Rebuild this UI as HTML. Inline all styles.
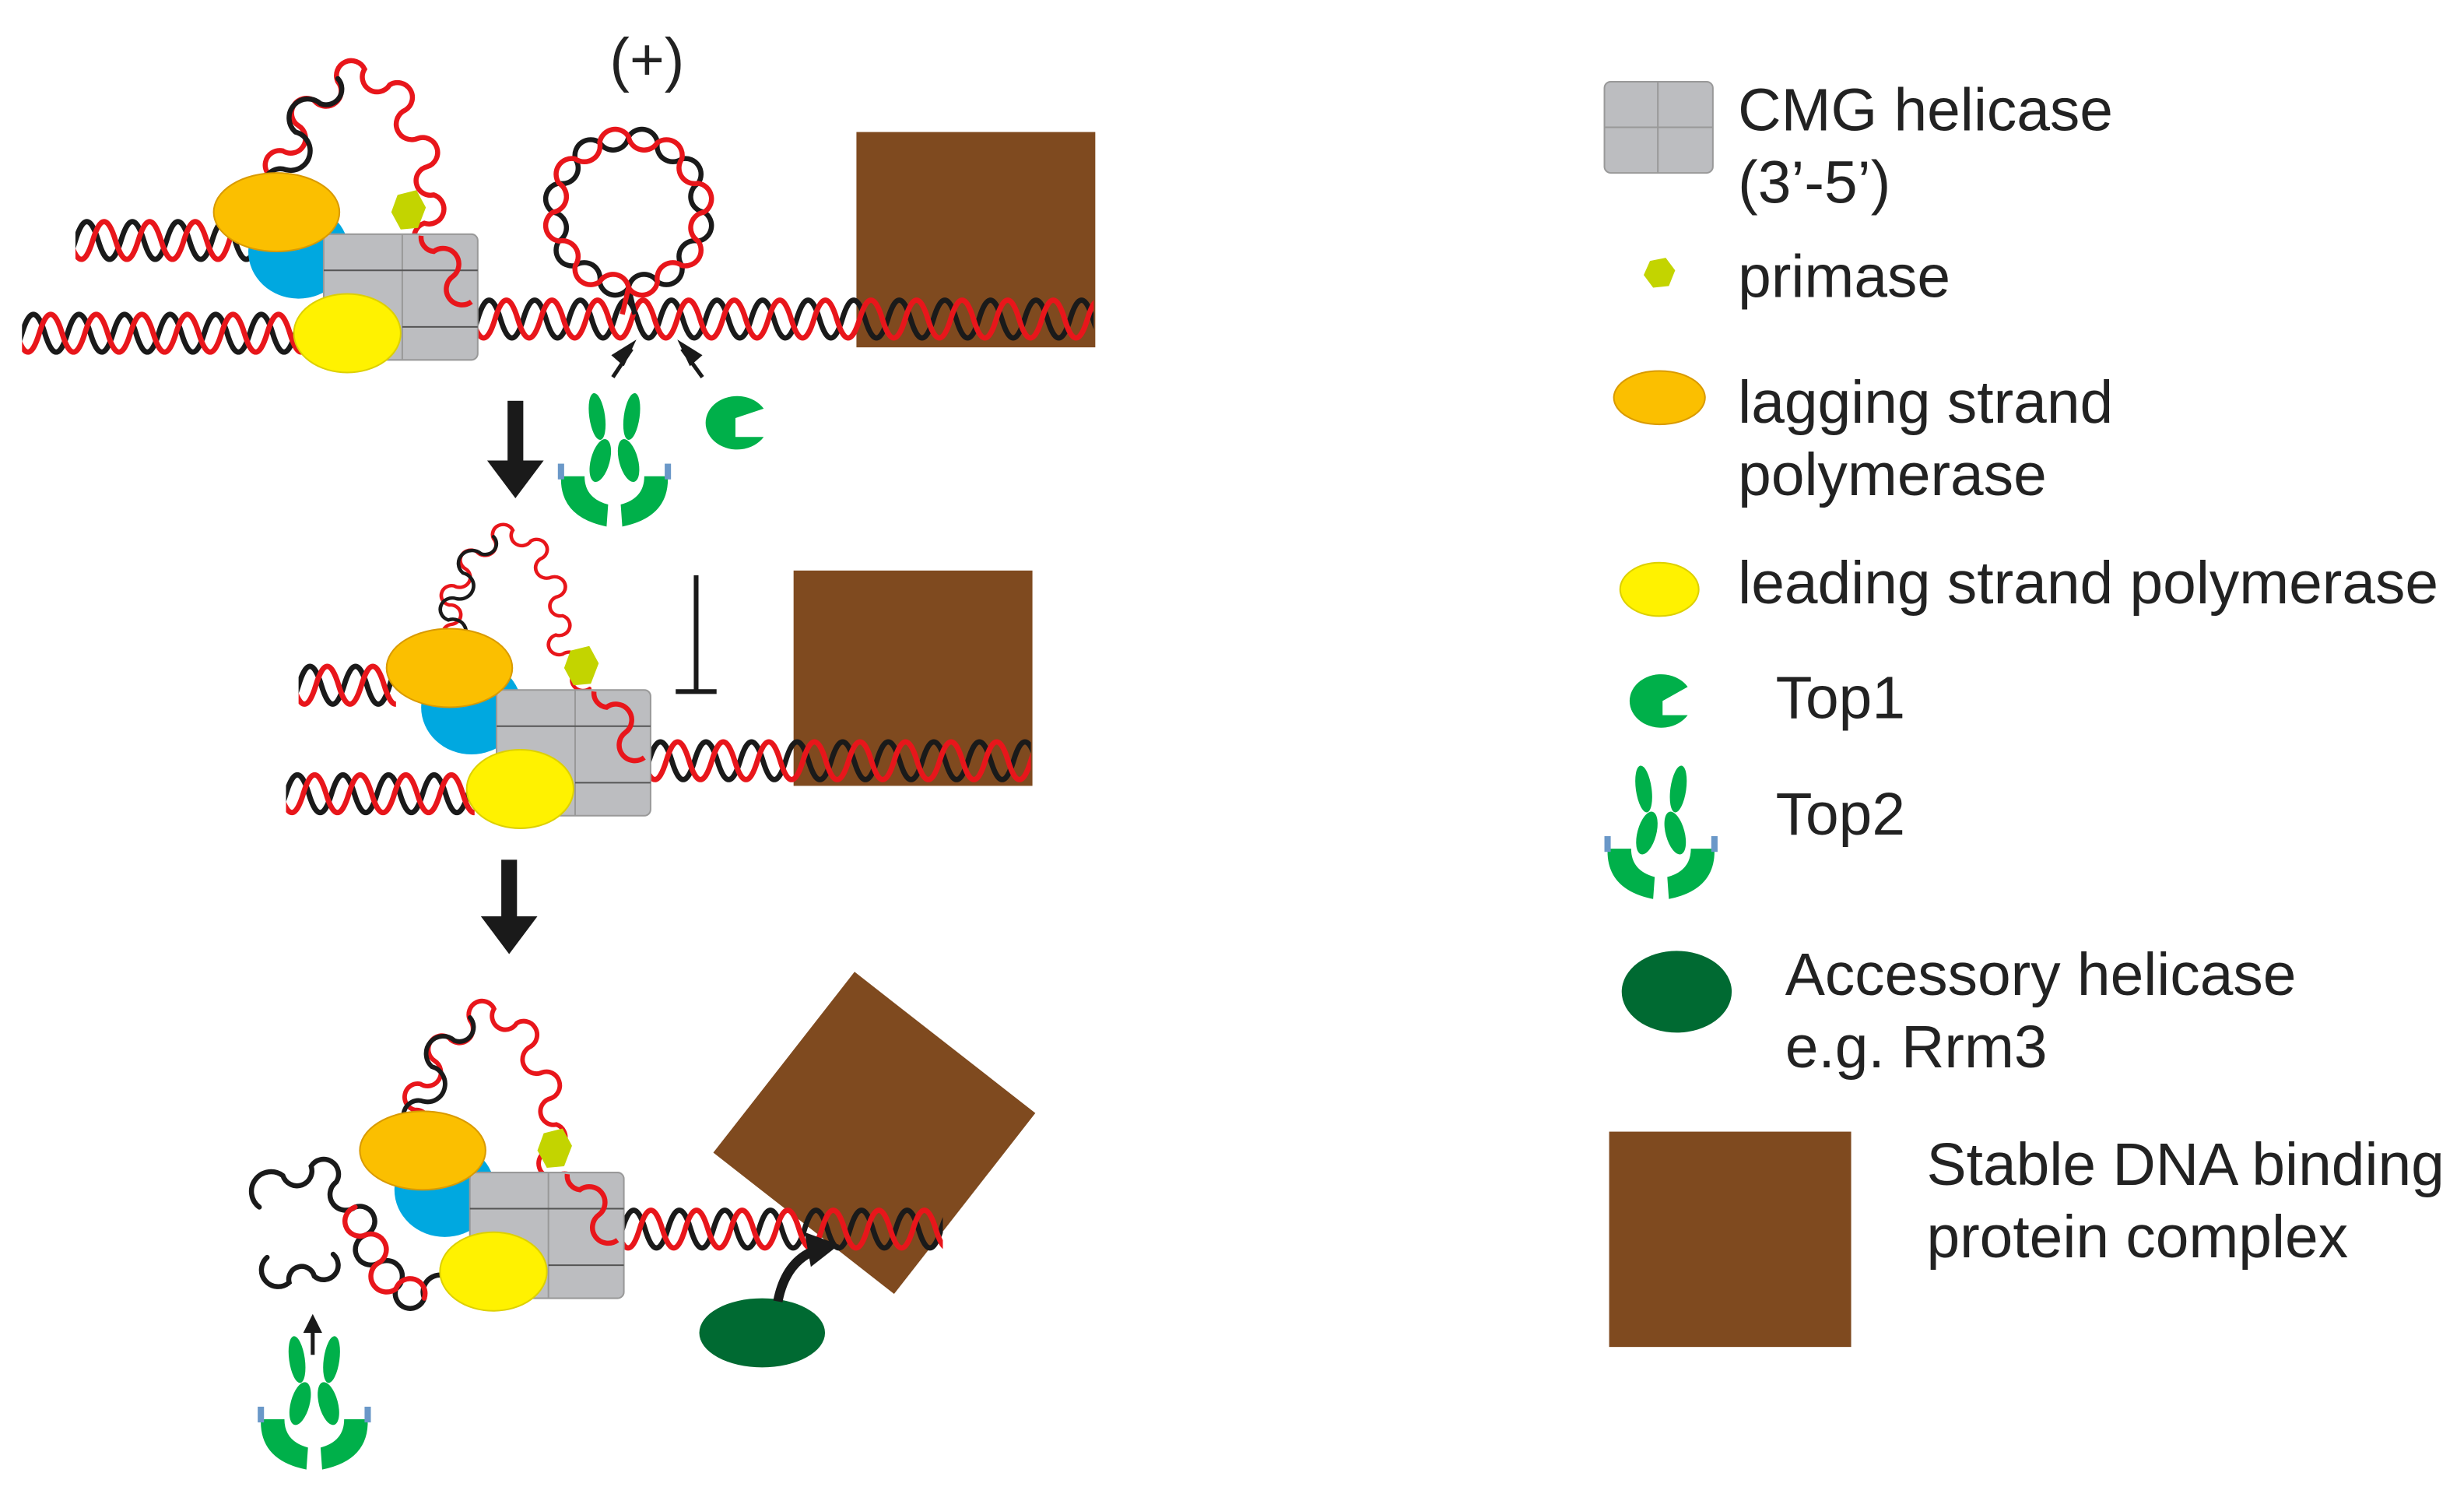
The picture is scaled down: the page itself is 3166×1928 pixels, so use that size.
<!DOCTYPE html>
<html><head><meta charset="utf-8"><style>
html,body{margin:0;padding:0;background:#fff}
svg{display:block}
text{font-family:"Liberation Sans",Arial,sans-serif;fill:#222}
</style></head><body>
<svg width="3166" height="1928" viewBox="0 0 1568 955" preserveAspectRatio="none" xmlns="http://www.w3.org/2000/svg" xmlns:xlink="http://www.w3.org/1999/xlink">
<defs>
<path id="hw" fill="none" stroke-width="3.4" d="M-29 15 q7.25 -24 14.5 0 t14.5 0 t14.5 0 t14.5 0 t14.5 0 t14.5 0 t14.5 0 t14.5 0 t14.5 0 t14.5 0 t14.5 0 t14.5 0 t14.5 0 t14.5 0 t14.5 0 t14.5 0 t14.5 0 t14.5 0 t14.5 0 t14.5 0 t14.5 0 t14.5 0 t14.5 0 t14.5 0 t14.5 0 t14.5 0 t14.5 0 t14.5 0 t14.5 0 t14.5 0 t14.5 0 t14.5 0"/>
<g id="h">
<use xlink:href="#hw" stroke="#1a1a1a"/>
<use xlink:href="#hw" stroke="#e8161b" transform="translate(11,0)"/>
</g>
<g id="loop" fill="none" stroke-width="3.2" stroke-linecap="round">
<path stroke="#e8161b" d="M180 150 A9 9 0 0 1 178 132 A9 9 0 0 0 176 114 A9 9 0 0 1 180 96 A9 9 0 0 0 190 80 A9 9 0 0 1 200 64 A9 9 0 0 0 215 52 A9 9 0 0 1 232 44 A9 9 0 0 0 248 54 A9 9 0 0 1 258 70 A9 9 0 0 0 266 88 A9 9 0 0 1 272 106 A9 9 0 0 0 276 124 A9 9 0 0 1 270 142 A9 9 0 0 0 276 160 A9 9 0 0 1 288 176 A9 9 0 0 0 300 192"/>
<path stroke="#1a1a1a" d="M183 150 A10 10 0 0 0 175 128 A10 10 0 0 1 182 108 A10 10 0 0 0 188 84 A10 10 0 0 1 204 66 A10 10 0 0 0 215 50"/>
</g>
<g id="mach">
<ellipse cx="190" cy="160" rx="32" ry="30" fill="#00a8e0"/>
<rect x="206" y="149" width="98" height="80" rx="4" fill="#bcbdc0" stroke="#999"/>
<line x1="256" y1="149" x2="256" y2="229" stroke="#999"/>
<line x1="206" y1="172" x2="304" y2="172" stroke="#555"/>
<line x1="256" y1="208" x2="304" y2="208" stroke="#555"/>
<ellipse cx="176" cy="135" rx="40" ry="25" fill="#fbbf00" stroke="#d99a00"/>
<ellipse cx="221" cy="212" rx="34" ry="25" fill="#fff200" stroke="#ddd000"/>
<polygon points="253,124 265,121 271,132 266,145 255,146 249,135" fill="#c3d400"/>
<path d="M268 150 A9 9 0 0 0 276 160 A9 9 0 0 1 288 176 A9 9 0 0 0 300 192" fill="none" stroke="#e8161b" stroke-width="3.2"/>
</g>
<g id="top2">
<ellipse cx="-10" cy="-30" rx="5" ry="15" fill="#00b04a" transform="rotate(-8 -10 -30)"/>
<ellipse cx="12" cy="-30" rx="5" ry="15" fill="#00b04a" transform="rotate(8 12 -30)"/>
<ellipse cx="-8" cy="-2" rx="6" ry="14" fill="#00b04a" transform="rotate(15 -8 -2)"/>
<ellipse cx="10" cy="-2" rx="6" ry="14" fill="#00b04a" transform="rotate(-15 10 -2)"/>
<path d="M-33,8 Q-34,34 -4,40 L-3,26 Q-18,22 -18,8 Z" fill="#00b04a"/>
<path d="M35,8 Q36,34 6,40 L5,26 Q20,22 20,8 Z" fill="#00b04a"/>
<rect x="-35" y="0" width="4" height="10" fill="#6a98c8"/>
<rect x="33" y="0" width="4" height="10" fill="#6a98c8"/>
</g>
</defs>
<rect width="1568" height="955" fill="#fff"/>

<!-- Panel 1 -->
<rect x="545" y="84" width="152" height="137" fill="#7f4a1f"/>
<svg x="48" y="138" width="118" height="30" viewBox="0 0 118 30"><use xlink:href="#h"/></svg>
<svg x="14" y="197" width="182" height="30" viewBox="0 0 182 30"><use xlink:href="#h"/></svg>
<svg x="304" y="188" width="392" height="30" viewBox="0 0 392 30"><use xlink:href="#h"/></svg>
<use xlink:href="#loop"/>
<g fill="none" stroke-width="3.2">
<path stroke="#1a1a1a" d="M400 183 A10 10 0 0 1 381.6 179.3 A10 10 0 0 0 366.1 168.9 A10 10 0 0 1 355.7 153.4 A10 10 0 0 0 352 135 A10 10 0 0 1 355.7 116.6 A10 10 0 0 0 366.1 101.1 A10 10 0 0 1 381.6 90.7 A10 10 0 0 0 400 87 A10 10 0 0 1 418.4 90.7 A10 10 0 0 0 433.9 101.1 A10 10 0 0 1 444.3 116.6 A10 10 0 0 0 448 135 A10 10 0 0 1 444.3 153.4 A10 10 0 0 0 433.9 168.9 A10 10 0 0 1 418.4 179.3 A10 10 0 0 0 400 183 L404 200"/>
<path stroke="#e8161b" d="M400 183 A10 10 0 0 0 381.6 179.3 A10 10 0 0 1 366.1 168.9 A10 10 0 0 0 355.7 153.4 A10 10 0 0 1 352 135 A10 10 0 0 0 355.7 116.6 A10 10 0 0 1 366.1 101.1 A10 10 0 0 0 381.6 90.7 A10 10 0 0 1 400 87 A10 10 0 0 0 418.4 90.7 A10 10 0 0 1 433.9 101.1 A10 10 0 0 0 444.3 116.6 A10 10 0 0 1 448 135 A10 10 0 0 0 444.3 153.4 A10 10 0 0 1 433.9 168.9 A10 10 0 0 0 418.4 179.3 A10 10 0 0 1 400 183 L396 200"/>
</g>
<use xlink:href="#mach"/>
<path d="M390,240 L402,222 M434,222 L447,240" stroke="#1a1a1a" stroke-width="2.5"/>
<polygon points="405,216 397,233 389,226" fill="#1a1a1a"/>
<polygon points="431,216 439,233 447,226" fill="#1a1a1a"/>
<rect x="323" y="255" width="10" height="40" fill="#1a1a1a"/>
<polygon points="310,293 346,293 328,317" fill="#1a1a1a"/>
<use xlink:href="#top2" transform="translate(390,295)"/>
<path d="M486,260 A20,17 0 1 0 486,278 L468,278 L468,266 Z" fill="#00b04a"/>

<!-- Panel 2 -->
<rect x="505" y="363" width="152" height="137" fill="#7f4a1f"/>
<svg x="190" y="421" width="62" height="30" viewBox="0 0 62 30"><use xlink:href="#h"/></svg>
<svg x="182" y="490" width="120" height="30" viewBox="0 0 120 30"><use xlink:href="#h"/></svg>
<svg x="413" y="469" width="243" height="30" viewBox="0 0 243 30"><use xlink:href="#h"/></svg>
<use xlink:href="#loop" transform="translate(286,336) scale(0.72 0.68) translate(-176,-42)"/>
<use xlink:href="#mach" transform="translate(110,290)"/>
<line x1="443" y1="366" x2="443" y2="440" stroke="#1a1a1a" stroke-width="3"/>
<line x1="430" y1="440" x2="456" y2="440" stroke="#1a1a1a" stroke-width="3"/>
<rect x="319" y="547" width="10" height="38" fill="#1a1a1a"/>
<polygon points="306,583 342,583 324,607" fill="#1a1a1a"/>

<!-- Panel 3 -->
<rect x="484" y="648" width="146" height="146" fill="#7f4a1f" transform="rotate(38 557 720)"/>
<svg x="396" y="767" width="204" height="30" viewBox="0 0 204 30"><use xlink:href="#h"/></svg>
<g fill="none" stroke-width="3.2" stroke-linecap="round">
<path stroke="#1a1a1a" d="M165 768 A8 8 0 0 1 180 748 A8 8 0 0 0 198 742 A8 8 0 0 1 214 752 A8 8 0 0 0 226 768 A8 8 0 0 1 232 786 A8 8 0 0 0 240 804 A8 8 0 0 1 252 820 A8 8 0 0 0 270 826 A8 8 0 0 1 290 818"/>
<path stroke="#1a1a1a" d="M170 800 A8 8 0 0 0 184 816 A8 8 0 0 1 200 812 A8 8 0 0 0 212 798"/>
<path stroke="#e8161b" d="M226 768 A8 8 0 0 0 232 786 A8 8 0 0 1 240 804 A8 8 0 0 0 252 820 A8 8 0 0 1 270 826"/>
</g>
<use xlink:href="#loop" transform="translate(264,640) scale(0.9 0.92) translate(-176,-42)"/>
<use xlink:href="#mach" transform="translate(93,597)"/>
<ellipse cx="485" cy="848" rx="40" ry="22" fill="#006a32"/>
<path d="M495,828 Q500,802 520,795" fill="none" stroke="#1a1a1a" stroke-width="6"/>
<polygon points="512,784 534,792 516,806" fill="#1a1a1a"/>
<line x1="199" y1="845" x2="199" y2="862" stroke="#1a1a1a" stroke-width="2.5"/>
<polygon points="193,848 205,848 199,836" fill="#1a1a1a"/>
<use xlink:href="#top2" transform="translate(199,895)"/>

<!-- legend -->
<rect x="1021" y="52" width="69" height="58" rx="4" fill="#bcbdc0" stroke="#999"/>
<line x1="1055" y1="52" x2="1055" y2="110" stroke="#999"/>
<line x1="1021" y1="81" x2="1090" y2="81" stroke="#999"/>
<g font-size="38">
<text x="1106" y="83">CMG helicase</text>
<text x="1106" y="129">(3’-5’)</text>
<text x="1106" y="189">primase</text>
<text x="1106" y="269">lagging strand</text>
<text x="1106" y="315">polymerase</text>
<text x="1106" y="384">leading strand polymerase</text>
<text x="1130" y="457">Top1</text>
<text x="1130" y="531">Top2</text>
<text x="1136" y="633">Accessory helicase</text>
<text x="1136" y="679">e.g. Rrm3</text>
<text x="1226" y="754">Stable DNA binding</text>
<text x="1226" y="800">protein complex</text>
<text x="388" y="51">(+)</text>
</g>
<polygon points="1050,166 1060,164 1066,172 1062,182 1052,183 1046,175" fill="#c3d400"/>
<ellipse cx="1056" cy="253" rx="29" ry="17" fill="#fbbf00" stroke="#d99a00"/>
<ellipse cx="1056" cy="375" rx="25" ry="17" fill="#fff200" stroke="#ddd000"/>
<path d="M1074,437 A20,17 0 1 0 1074,455 L1058,455 L1058,446 Z" fill="#00b04a"/>
<use xlink:href="#top2" transform="translate(1056,532)"/>
<ellipse cx="1067" cy="631" rx="35" ry="26" fill="#006a32"/>
<rect x="1024" y="720" width="154" height="137" fill="#7f4a1f"/>
</svg>
</body></html>
